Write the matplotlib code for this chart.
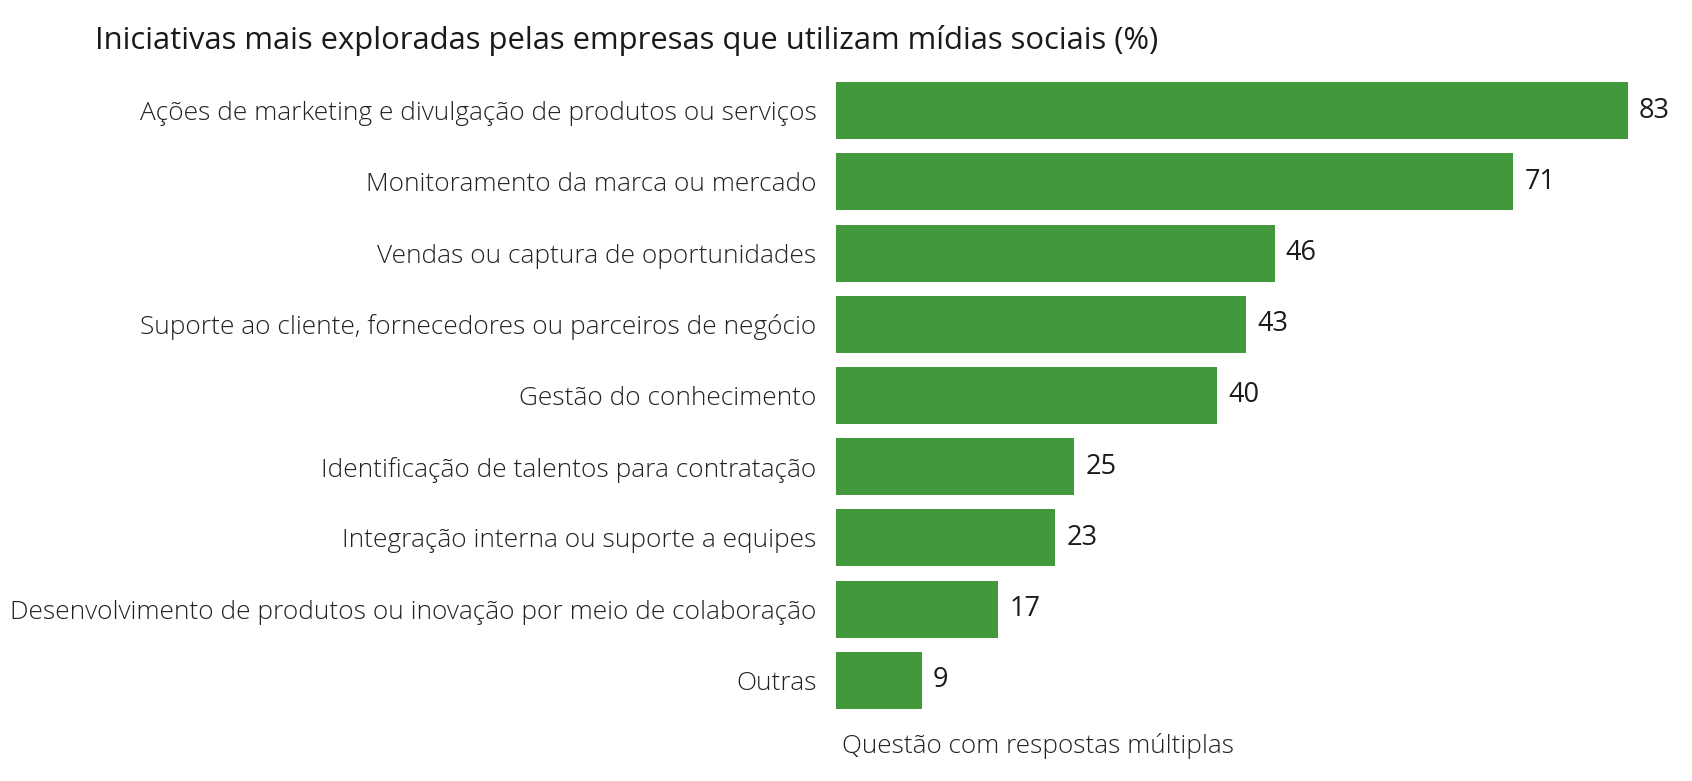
import matplotlib
matplotlib.use("Agg")
import matplotlib.pyplot as plt

categories = [
    "Ações de marketing e divulgação de produtos ou serviços",
    "Monitoramento da marca ou mercado",
    "Vendas ou captura de oportunidades",
    "Suporte ao cliente, fornecedores ou parceiros de negócio",
    "Gestão do conhecimento",
    "Identificação de talentos para contratação",
    "Integração interna ou suporte a equipes",
    "Desenvolvimento de produtos ou inovação por meio de colaboração",
    "Outras",
]
values = [83, 71, 46, 43, 40, 25, 23, 17, 9]
title = "Iniciativas mais exploradas pelas empresas que utilizam mídias sociais (%)"
footnote = "Questão com respostas múltiplas"

plt.rcParams['font.family'] = ['Open Sans', 'DejaVu Sans']

fig = plt.figure(figsize=(16.92, 7.81), dpi=100)
ax = fig.add_axes([0.494, 0.0832, 0.5007, 0.8208])

ypos = list(range(len(categories)))
ax.barh(ypos, values, height=0.8, color="#43983C")
ax.set_xlim(0, 88.8)
ax.set_ylim(len(categories) - 0.5, -0.5)
ax.set_yticks(ypos)
ax.set_yticklabels(categories, fontsize=18.9, fontweight='light', color="#222222")
ax.tick_params(axis='y', length=0, pad=14)
ax.set_xticks([])
for s in ax.spines.values():
    s.set_visible(False)

for y, v in zip(ypos, values):
    ax.annotate(str(v), xy=(v, y), xytext=(8, 0), textcoords='offset points',
                va='center', ha='left', fontsize=19.5, fontweight='medium',
                color="#1a1a1a")

fig.text(0.056, 0.948, title, fontsize=22.3, color="#1a1a1a", va='center', ha='left')
fig.text(0.4975, 0.045, footnote, fontsize=18.8, fontweight='light', color="#222222",
         va='center', ha='left')

fig.savefig("out.png", dpi=100)
